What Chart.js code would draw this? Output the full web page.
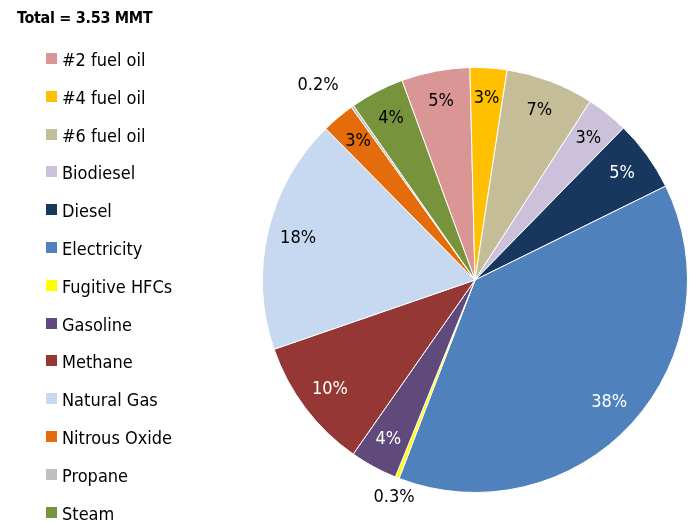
<!DOCTYPE html>
<html>
<head>
<meta charset="utf-8">
<script src="https://cdn.jsdelivr.net/npm/chart.js@4.4.1/dist/chart.umd.min.js"></script>
<style>
  body { margin: 0; background: #fff; }
  #wrap { position: relative; width: 695px; height: 523px; font-family: "Liberation Sans Narrow", "DejaVu Sans Condensed", sans-serif; }
  #pie { position: absolute; left: 0; top: 0; }
  #title { position: absolute; left: 17px; top: 8px; font-weight: bold; font-size: 16px; letter-spacing: -0.3px; color: #000; }
  #legend { position: absolute; left: 46px; top: 49px; }
  .item { height: 37.8px; display: flex; align-items: flex-start; font-size: 18px; color: #000; }
  .box { width: 11px; height: 11px; margin-top: 4px; margin-right: 5px; }
</style>
</head>
<body>
<div id="wrap">
  <canvas id="pie" width="695" height="523"></canvas>
  <div id="title">Total = 3.53 MMT</div>
  <div id="legend"></div>
</div>
<script>
const categories = ["#2 fuel oil", "#4 fuel oil", "#6 fuel oil", "Biodiesel", "Diesel", "Electricity",
  "Fugitive HFCs", "Gasoline", "Methane", "Natural Gas", "Nitrous Oxide", "Propane", "Steam"];
const shares = [5.2, 2.8, 6.7, 3.2, 5.4, 38.1, 0.3, 3.6, 10.0, 17.9, 2.5, 0.2, 4.1];
const shareLabels = ["5%", "3%", "7%", "3%", "5%", "38%", "0.3%", "4%", "10%", "18%", "3%", "0.2%", "4%"];
const colors = ["#D99694", "#FFC000", "#C4BD97", "#CCC1DA", "#17375E", "#4F81BD",
  "#FFFF00", "#604A7B", "#953735", "#C6D9F1", "#E46C0A", "#BFBFBF", "#77933C"];
const darkSlices = ["Diesel", "Electricity", "Gasoline", "Methane"];
const outsideSlices = { "Fugitive HFCs": [394, 497], "Propane": [318, 85] };

// legend
const legend = document.getElementById("legend");
categories.forEach((c, i) => {
  const row = document.createElement("div");
  row.className = "item";
  row.innerHTML = '<span class="box" style="background:' + colors[i] + '"></span><span>' + c + '</span>';
  legend.appendChild(row);
});

const sliceLabels = {
  id: "sliceLabels",
  afterDatasetsDraw(chart) {
    const ctx = chart.ctx;
    const arcs = chart.getDatasetMeta(0).data;
    ctx.save();
    ctx.font = '18px "Liberation Sans Narrow", "DejaVu Sans Condensed", sans-serif';
    ctx.textAlign = "center";
    ctx.textBaseline = "middle";
    arcs.forEach((arc, i) => {
      const name = categories[i];
      let x, y;
      if (outsideSlices[name]) {
        [x, y] = outsideSlices[name];
        ctx.fillStyle = "#000";
      } else {
        const p = arc.getProps(["x", "y", "startAngle", "endAngle", "outerRadius"], true);
        const mid = (p.startAngle + p.endAngle) / 2;
        const r = p.outerRadius * 0.855;
        x = p.x + Math.cos(mid) * r;
        y = p.y + Math.sin(mid) * r;
        ctx.fillStyle = darkSlices.includes(name) ? "#fff" : "#000";
      }
      ctx.fillText(shareLabels[i], x, y);
    });
    ctx.restore();
  }
};

new Chart(document.getElementById("pie"), {
  type: "pie",
  data: {
    labels: categories,
    datasets: [{
      data: shares,
      backgroundColor: colors,
      borderColor: "#fff",
      borderWidth: 1
    }]
  },
  options: {
    responsive: false,
    animation: false,
    rotation: -20.1,
    layout: { padding: { left: 262, right: 7, top: 67, bottom: 30 } },
    plugins: {
      legend: { display: false },
      tooltip: { enabled: false }
    }
  },
  plugins: [sliceLabels]
});
</script>
</body>
</html>
